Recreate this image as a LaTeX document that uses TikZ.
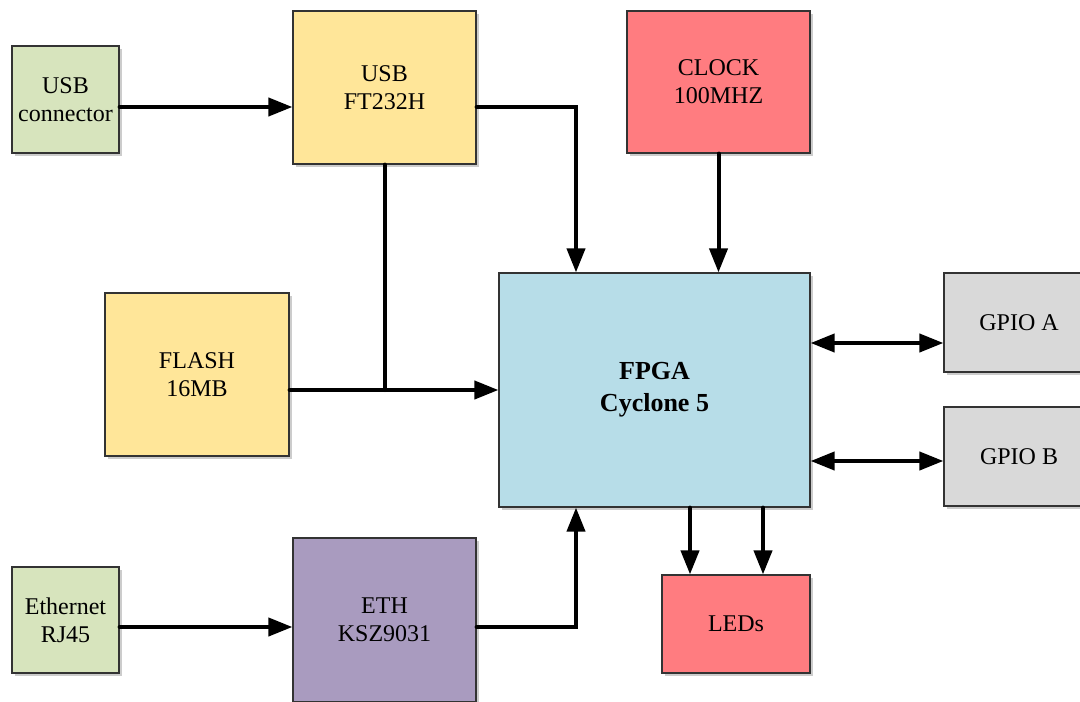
\documentclass[tikz,border=0pt]{standalone}
\usepackage{fontspec}
\setmainfont{Liberation Serif}
\usetikzlibrary{positioning,shadows,arrows.meta}
\definecolor{conngreen}{HTML}{D7E4BD}
\definecolor{chipyellow}{HTML}{FFE699}
\definecolor{clockred}{HTML}{FF7C80}
\definecolor{fpgablue}{HTML}{B7DDE8}
\definecolor{gpiogrey}{HTML}{D9D9D9}
\definecolor{ethpurple}{HTML}{A99BBF}
\tikzset{%
  block/.style={
    draw=black!80,
    line width=0.6pt,
    fill=#1,
    align=center,
    inner sep=2pt,
    font=\fontsize{12}{14}\selectfont,
    drop shadow={shadow xshift=1.5pt,shadow yshift=-1.5pt,opacity=0.4}
  },
  wire/.style={
    line width=2pt,
    line cap=round,
    ->
  },
}

\begin{document}
\begin{tikzpicture}[x=0.5pt,y=-0.5pt,>={Triangle[length=12pt,width=9pt]}]
        \useasboundingbox (0,0) rectangle (1080,701);

        % blocks
        \node[block=conngreen,minimum width=53.5pt,minimum height=53.5pt] (usbconn) at (65.5,99.5) {USB\\connector};
        \node[block=chipyellow,minimum width=91.5pt,minimum height=76.5pt] (usbchip) at (384.5,87.5) {USB\\FT232H};
        \node[block=clockred,minimum width=91.5pt,minimum height=71pt] (clock) at (718.5,82) {CLOCK\\100MHZ};
        \node[block=fpgablue,minimum width=155.5pt,minimum height=117pt,font=\fontsize{13}{16}\selectfont\bfseries] (fpga) at (654.5,390) {FPGA\\Cyclone 5};
        \node[block=gpiogrey,minimum width=75pt,minimum height=49.5pt] (gpioa) at (1019,322.5) {GPIO A};
        \node[block=gpiogrey,minimum width=75pt,minimum height=49.5pt] (gpiob) at (1019,456.5) {GPIO B};
        \node[block=chipyellow,minimum width=92pt,minimum height=81.5pt] (flash) at (197,374.5) {FLASH\\16MB};
        \node[block=conngreen,minimum width=53.5pt,minimum height=53pt] (ethconn) at (65.5,620) {Ethernet\\RJ45};
        \node[block=ethpurple,minimum width=91.5pt,minimum height=82pt] (ethchip) at (384.5,620) {ETH\\KSZ9031};
        \node[block=clockred,minimum width=74pt,minimum height=49pt] (leds) at (736,624) {LEDs};

        % rows and columns of the wires
        \coordinate (usbrow) at (0,107);
        \coordinate (ethrow) at (0,627);
        \coordinate (gparow) at (0,343);
        \coordinate (gpbrow) at (0,461);
        \coordinate (busx) at (576,0);
        \coordinate (ledxa) at (690,0);
        \coordinate (ledxb) at (763,0);

        % connections
        \draw[wire] (usbconn.east |- usbrow) -- (usbchip.west |- usbrow);
        \draw[wire] (usbchip.east |- usbrow) -| (busx |- fpga.north);
        \draw[wire] (clock.south) -- (clock.south |- fpga.north);
        \draw[line width=2pt,line cap=round] (usbchip.south) -- (usbchip.south |- fpga.west);
        \draw[wire] (flash.east |- fpga.west) -- (fpga.west);
        \draw[wire,<->] (fpga.east |- gparow) -- (gpioa.west |- gparow);
        \draw[wire,<->] (fpga.east |- gpbrow) -- (gpiob.west |- gpbrow);
        \draw[wire] (fpga.south -| ledxa) -- (leds.north -| ledxa);
        \draw[wire] (fpga.south -| ledxb) -- (leds.north -| ledxb);
        \draw[wire] (ethconn.east |- ethrow) -- (ethchip.west |- ethrow);
        \draw[wire] (ethchip.east |- ethrow) -| (busx |- fpga.south);
\end{tikzpicture}
\end{document}
